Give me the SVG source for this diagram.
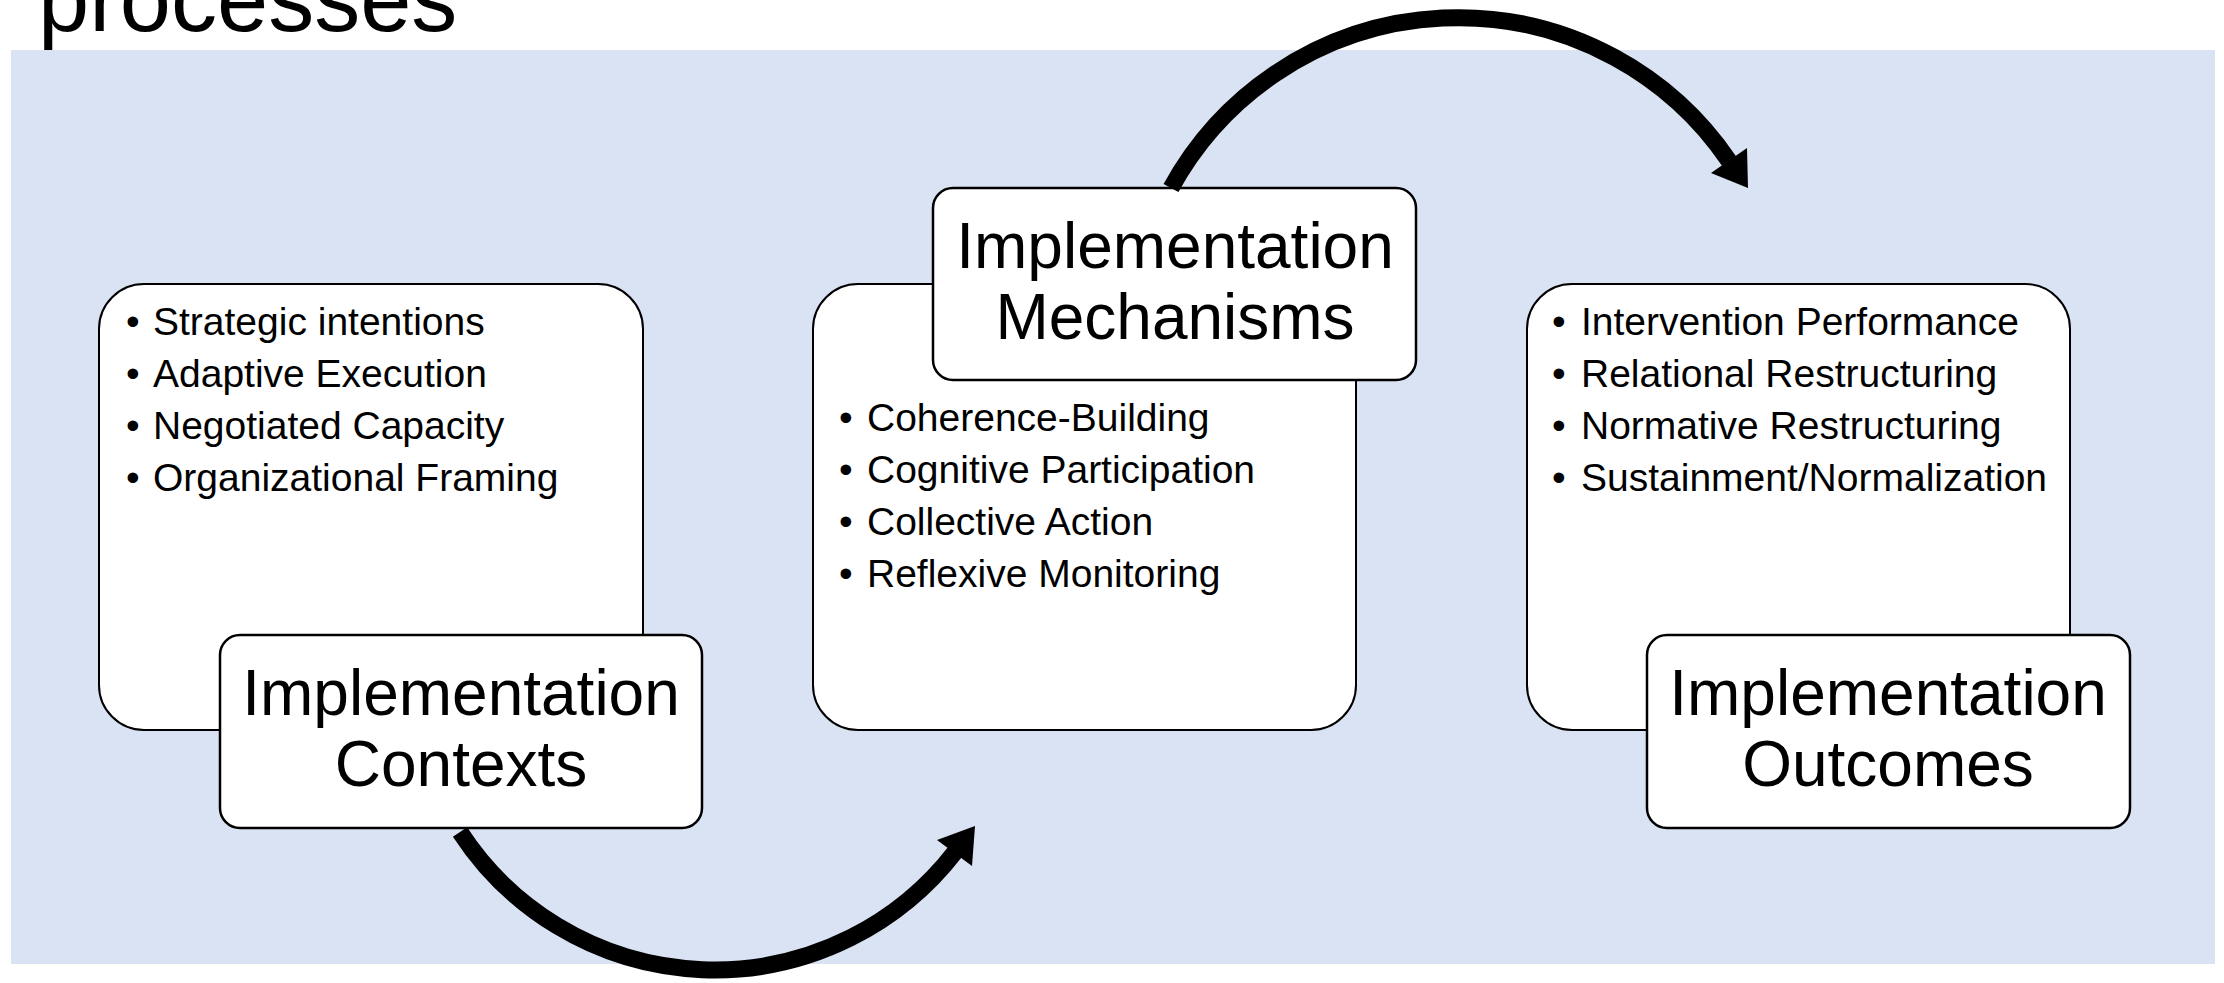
<svg xmlns="http://www.w3.org/2000/svg" width="2224" height="983" viewBox="0 0 2224 983">
<style>
.t{font-family:"Liberation Sans",Arial,sans-serif;fill:#000}
.item{font-size:39px}
.head{font-size:64px;text-anchor:middle}
.body{fill:#fff;stroke:#000;stroke-width:2}
.title{fill:#fff;stroke:#000;stroke-width:2.5}
.arc{fill:none;stroke:#000;stroke-width:17;stroke-linecap:butt}
.ah{fill:#000}
</style>
<rect width="2224" height="983" fill="#fff"/>
<text class="t" x="38" y="31" font-size="92">processes</text>
<rect x="11" y="50" width="2204" height="914" fill="#DAE3F3"/>

<g id="contexts">
<rect class="body" x="99" y="284" width="544" height="446" rx="45"/>
<text class="t item" x="126" y="335">•</text><text class="t item" x="153" y="335">Strategic intentions</text>
<text class="t item" x="126" y="387">•</text><text class="t item" x="153" y="387">Adaptive Execution</text>
<text class="t item" x="126" y="439">•</text><text class="t item" x="153" y="439">Negotiated Capacity</text>
<text class="t item" x="126" y="491">•</text><text class="t item" x="153" y="491">Organizational Framing</text>
<rect class="title" x="220" y="635" width="482" height="193" rx="20"/>
<text class="t head" x="461" y="715">Implementation</text>
<text class="t head" x="461" y="786">Contexts</text>
</g>

<g id="mechanisms">
<rect class="body" x="813" y="284" width="543" height="446" rx="45"/>
<rect class="title" x="933" y="188" width="483" height="192" rx="20"/>
<text class="t head" x="1175" y="268">Implementation</text>
<text class="t head" x="1175" y="339">Mechanisms</text>
<text class="t item" x="839" y="431">•</text><text class="t item" x="867" y="431">Coherence-Building</text>
<text class="t item" x="839" y="483">•</text><text class="t item" x="867" y="483">Cognitive Participation</text>
<text class="t item" x="839" y="535">•</text><text class="t item" x="867" y="535">Collective Action</text>
<text class="t item" x="839" y="587">•</text><text class="t item" x="867" y="587">Reflexive Monitoring</text>
</g>

<g id="outcomes">
<rect class="body" x="1527" y="284" width="543" height="446" rx="45"/>
<text class="t item" x="1552" y="335">•</text><text class="t item" x="1581" y="335">Intervention Performance</text>
<text class="t item" x="1552" y="387">•</text><text class="t item" x="1581" y="387">Relational Restructuring</text>
<text class="t item" x="1552" y="439">•</text><text class="t item" x="1581" y="439">Normative Restructuring</text>
<text class="t item" x="1552" y="491">•</text><text class="t item" x="1581" y="491">Sustainment/Normalization</text>
<rect class="title" x="1647" y="635" width="483" height="193" rx="20"/>
<text class="t head" x="1888" y="715">Implementation</text>
<text class="t head" x="1888" y="786">Outcomes</text>
</g>

<g id="connectors">
<path class="arc" d="M 460 832 A 304 304 0 0 0 955 852"/>
<polygon class="ah" points="975,826 972,866 937,840"/>
<path class="arc" d="M 1171 188 A 327.4 327.4 0 0 1 1729 161"/>
<polygon class="ah" points="1748,188 1747,148 1711,173"/>
</g>
</svg>
